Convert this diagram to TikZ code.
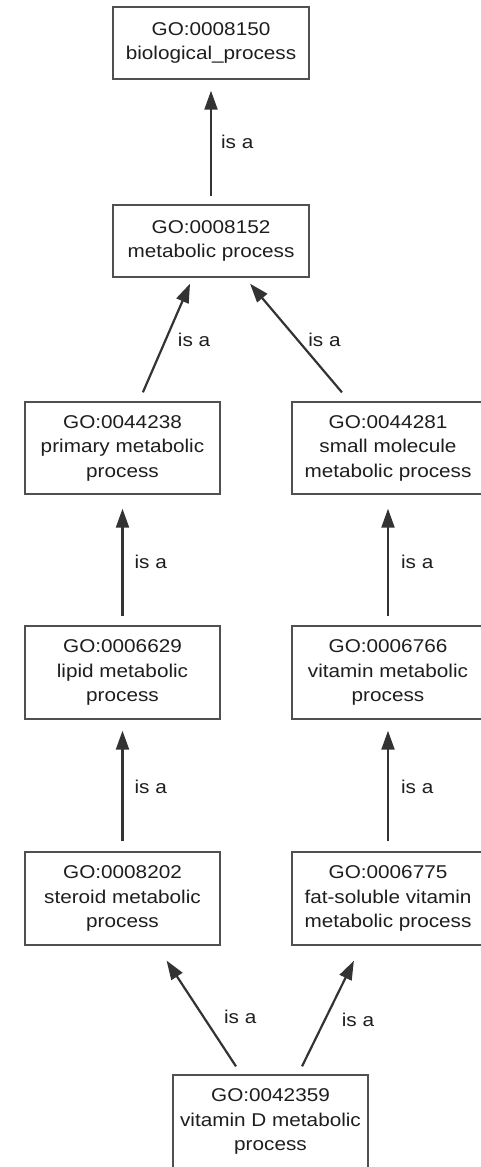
\documentclass[tikz,border=0pt]{standalone}
\usepackage{fontspec}
\setmainfont{Liberation Sans}[FakeStretch=1.12]
\usetikzlibrary{arrows.meta}
\definecolor{boxline}{HTML}{505050}
\definecolor{inkgray}{HTML}{1E1E1E}
\definecolor{arrowgray}{HTML}{333333}
\tikzset{
  term/.style={draw=boxline, line width=1.4pt, fill=white, align=center,
    inner sep=0pt, text=inkgray, font=\fontsize{18.5}{24.5}\selectfont},
  leftcol/.style={minimum width=195pt},
  rightcol/.style={minimum width=192pt},
  isa/.style={draw=arrowgray, line width=2.2pt,
    -{Triangle[length=19pt,width=13pt]}},
  rel/.style={text=inkgray, inner sep=1pt, anchor=west,
    font=\fontsize{18.5}{22}\selectfont}
}
\begin{document}
\begin{tikzpicture}[x=1pt,y=-1pt]
\useasboundingbox (0,0) rectangle (481,1167);
\clip (0,0) rectangle (481,1167);

% GO terms
\node[term, minimum width=196pt, minimum height=72pt] (bp) at (211,43)
  {GO:0008150\\biological\_process};
\node[term, minimum width=196pt, minimum height=72pt] (mp) at (211,241)
  {GO:0008152\\metabolic process};
\node[term, leftcol, minimum height=92pt] (pmp) at (122.5,448)
  {GO:0044238\\primary metabolic\\process};
\node[term, rightcol, minimum height=92pt] (smm) at (388,448)
  {GO:0044281\\small molecule\\metabolic process};
\node[term, leftcol, minimum height=93pt] (lmp) at (122.5,672.5)
  {GO:0006629\\lipid metabolic\\process};
\node[term, rightcol, minimum height=93pt] (vmp) at (388,672.5)
  {GO:0006766\\vitamin metabolic\\process};
\node[term, leftcol, minimum height=93pt] (smp) at (122.5,898.5)
  {GO:0008202\\steroid metabolic\\process};
\node[term, rightcol, minimum height=93pt] (fsv) at (388,898.5)
  {GO:0006775\\fat-soluble vitamin\\metabolic process};
\node[term, minimum width=195pt, minimum height=93pt] (vdm) at (270.5,1121.5)
  {GO:0042359\\vitamin D metabolic\\process};

% is_a relations
\draw[isa, shorten <=8pt, shorten >=11pt] (mp.north) -- (bp.south)
  node[rel, pos=0.5, xshift=8pt] {is a};

\draw[isa, shorten <=9.8pt, shorten >=6.5pt]
  ([xshift=16.5pt]pmp.north) -- ([xshift=-18.4pt]mp.south)
  node[rel, pos=0.5, xshift=10pt] {is a};
\draw[isa, shorten <=11.7pt, shorten >=7.8pt]
  ([xshift=-38.5pt]smm.north) -- ([xshift=34pt]mp.south)
  node[rel, pos=0.5, xshift=9pt] {is a};

\draw[isa, shorten <=9pt, shorten >=14pt] (lmp.north) -- (pmp.south)
  node[rel, pos=0.5, xshift=10pt, yshift=-2pt] {is a};
\draw[isa, shorten <=9pt, shorten >=14pt] (vmp.north) -- (smm.south)
  node[rel, pos=0.5, xshift=11pt, yshift=-2pt] {is a};

\draw[isa, shorten <=10pt, shorten >=11pt] (smp.north) -- (lmp.south)
  node[rel, pos=0.5, xshift=10pt, yshift=-1pt] {is a};
\draw[isa, shorten <=10pt, shorten >=11pt] (fsv.north) -- (vmp.south)
  node[rel, pos=0.5, xshift=11pt, yshift=-1pt] {is a};

\draw[isa, shorten <=9.5pt, shorten >=17.8pt]
  ([xshift=-29.3pt]vdm.north) -- ([xshift=34.3pt]smp.south)
  node[rel, pos=0.5, xshift=23pt, yshift=-7pt] {is a};
\draw[isa, shorten <=8.9pt, shorten >=16.7pt]
  ([xshift=27.6pt]vdm.north) -- ([xshift=-26.7pt]fsv.south)
  node[rel, pos=0.5, xshift=10pt, yshift=-10pt] {is a};
\end{tikzpicture}
\end{document}
